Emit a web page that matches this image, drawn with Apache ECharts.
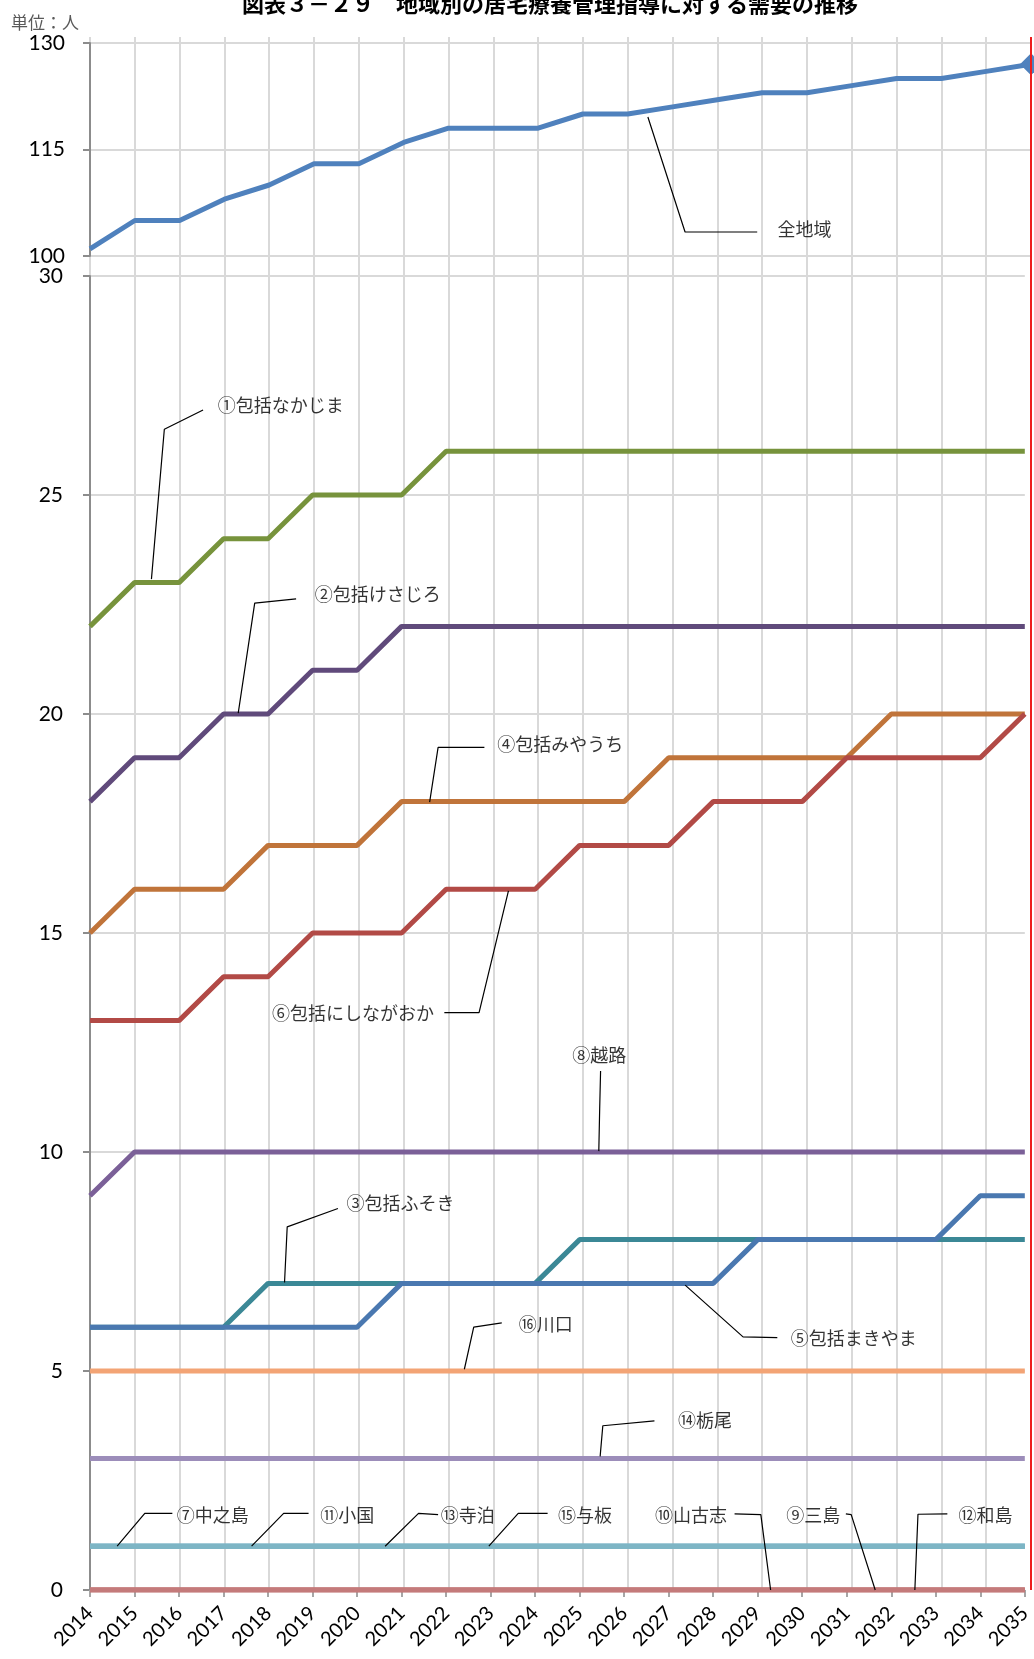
<!DOCTYPE html>
<html><head><meta charset="utf-8">
<script src="https://cdn.jsdelivr.net/npm/echarts@6/dist/echarts.min.js"></script>
<style>html,body{margin:0;padding:0;background:#fff}#c{width:1034px;height:1659px}</style>
</head><body><div id="c"></div>
<script>
// ---- data ----
const years = [2014,2015,2016,2017,2018,2019,2020,2021,2022,2023,2024,2025,2026,2027,2028,2029,2030,2031,2032,2033,2034,2035];
const topTicks = [100, 115, 130];
const lowTicks = [0, 5, 10, 15, 20, 25, 30];

const allArea      = [101,105,105,108,110,113,113,116,118,118,118,120,120,121,122,123,123,124,125,125,126,127];
const nakajima     = [22,23,23,24,24,25,25,25,26,26,26,26,26,26,26,26,26,26,26,26,26,26];
const kesajiro     = [18,19,19,20,20,21,21,22,22,22,22,22,22,22,22,22,22,22,22,22,22,22];
const miyauchi     = [15,16,16,16,17,17,17,18,18,18,18,18,18,19,19,19,19,19,20,20,20,20];
const nishinagaoka = [13,13,13,14,14,15,15,15,16,16,16,17,17,17,18,18,18,19,19,19,19,20];
const koshiji      = [9,10,10,10,10,10,10,10,10,10,10,10,10,10,10,10,10,10,10,10,10,10];
const fusoki       = [6,6,6,6,7,7,7,7,7,7,7,8,8,8,8,8,8,8,8,8,8,8];
const makiyama     = [6,6,6,6,6,6,6,7,7,7,7,7,7,7,7,8,8,8,8,8,9,9];
const kawaguchi    = [5,5,5,5,5,5,5,5,5,5,5,5,5,5,5,5,5,5,5,5,5,5];
const tochio       = [3,3,3,3,3,3,3,3,3,3,3,3,3,3,3,3,3,3,3,3,3,3];
const nakanoshima  = [1,1,1,1,1,1,1,1,1,1,1,1,1,1,1,1,1,1,1,1,1,1];
const oguni        = [1,1,1,1,1,1,1,1,1,1,1,1,1,1,1,1,1,1,1,1,1,1];
const teradomari   = [1,1,1,1,1,1,1,1,1,1,1,1,1,1,1,1,1,1,1,1,1,1];
const yoita        = [1,1,1,1,1,1,1,1,1,1,1,1,1,1,1,1,1,1,1,1,1,1];
const yamakoshi    = [0,0,0,0,0,0,0,0,0,0,0,0,0,0,0,0,0,0,0,0,0,0];
const mishima      = [0,0,0,0,0,0,0,0,0,0,0,0,0,0,0,0,0,0,0,0,0,0];
const washima      = [0,0,0,0,0,0,0,0,0,0,0,0,0,0,0,0,0,0,0,0,0,0];

// annotations: label text, label anchor (data space), leader polyline (data space)
const topNotes = [
  {text:'全地域', at:[2029.33,103.8], leader:[[2026.45,119.58],[2027.28,103.38],[2028.89,103.38]]}
];
const lowNotes = [
  {text:'①包括なかじま', at:[2016.86,27.04], leader:[[2015.38,23.08],[2015.67,26.5],[2016.54,26.94]]},
  {text:'②包括けさじろ', at:[2019.04,22.73], leader:[[2017.33,20.02],[2017.70,22.53],[2018.63,22.63]]},
  {text:'④包括みやうち', at:[2023.14,19.32], leader:[[2021.63,17.99],[2021.82,19.24],[2022.86,19.24]]},
  {text:'⑥包括にしながおか', at:[2018.08,13.18], leader:[[2023.40,15.96],[2022.74,13.18],[2021.96,13.18]]},
  {text:'⑧越路', at:[2024.82,12.21], leader:[[2025.43,10.02],[2025.45,11.0],[2025.47,11.85]]},
  {text:'③包括ふそき', at:[2019.75,8.83], leader:[[2018.37,7.02],[2018.43,8.29],[2019.57,8.71]]},
  {text:'⑤包括まきやま', at:[2029.73,5.75], leader:[[2027.37,6.96],[2028.67,5.78],[2029.44,5.76]]},
  {text:'⑯川口', at:[2023.62,6.07], leader:[[2022.41,5.04],[2022.62,6.0],[2023.25,6.10]]},
  {text:'⑭栃尾', at:[2027.20,3.88], leader:[[2025.46,3.05],[2025.52,3.75],[2026.68,3.86]]},
  {text:'⑦中之島', at:[2015.94,1.71], leader:[[2014.61,1.0],[2015.23,1.75],[2015.85,1.75]]},
  {text:'⑪小国', at:[2019.16,1.71], leader:[[2017.63,1.0],[2018.35,1.75],[2018.91,1.75]]},
  {text:'⑬寺泊', at:[2021.87,1.71], leader:[[2020.63,1.0],[2021.38,1.75],[2021.82,1.72]]},
  {text:'⑮与板', at:[2024.50,1.71], leader:[[2022.96,1.0],[2023.62,1.75],[2024.28,1.75]]},
  {text:'⑩山古志', at:[2026.68,1.71], leader:[[2028.48,1.74],[2029.07,1.72],[2029.29,0]]},
  {text:'⑨三島', at:[2029.63,1.71], leader:[[2030.98,1.74],[2031.10,1.72],[2031.64,0]]},
  {text:'⑫和島', at:[2033.50,1.71], leader:[[2032.53,0],[2032.60,1.73],[2033.26,1.74]]}
];

const lowSeries = [
  ['①包括なかじま', nakajima, '#77933C'],
  ['②包括けさじろ', kesajiro, '#604A7B'],
  ['④包括みやうち', miyauchi, '#C0743A'],
  ['⑥包括にしながおか', nishinagaoka, '#B24A46'],
  ['⑧越路', koshiji, '#7B6098'],
  ['③包括ふそき', fusoki, '#3B8896'],
  ['⑤包括まきやま', makiyama, '#4A78B0'],
  ['⑯川口', kawaguchi, '#F3A475'],
  ['⑭栃尾', tochio, '#9C8DBA'],
  ['⑦中之島', nakanoshima, '#7DB5C5'],
  ['⑪小国', oguni, '#7DB5C5'],
  ['⑬寺泊', teradomari, '#7DB5C5'],
  ['⑮与板', yoita, '#7DB5C5'],
  ['⑩山古志', yamakoshi, '#C47A7A'],
  ['⑨三島', mishima, '#C47A7A'],
  ['⑫和島', washima, '#C47A7A']
];

// ---- chart ----
const GRID = '#D9D9D9', AXIS = '#8C8C8C';
const JP = '"Noto Sans CJK JP", sans-serif';
const NUM = 'Lato, "Open Sans", sans-serif';
const xBase = {type:'value', min:years[0], max:years[years.length-1], interval:1};

const series = [];
// red right border line on background grid
series.push({type:'line', xAxisIndex:2, yAxisIndex:2, data:[[years[years.length-1],0],[years[years.length-1],1]],
  symbol:'none', lineStyle:{color:'#EE1C1C', width:2}, z:20, silent:true, clip:false});

series.push({type:'line', name:'全地域', xAxisIndex:0, yAxisIndex:0, symbol:'none',
  data: allArea.map((v,i)=> i===allArea.length-1 ? {value:[years[i],v], symbol:'diamond', symbolSize:[22,22]} : [years[i],v]),
  lineStyle:{color:'#4F81BD', width:5}, itemStyle:{color:'#4F81BD'}, z:5});

lowSeries.forEach(([name, arr, col]) => {
  series.push({type:'line', name, xAxisIndex:1, yAxisIndex:1, symbol:'none',
    data: arr.map((v,i)=>[years[i],v]), lineStyle:{color:col, width:5}, itemStyle:{color:col}, z:3});
});

function addNotes(notes, idx){
  notes.forEach(n => {
    series.push({type:'line', xAxisIndex:idx, yAxisIndex:idx, symbol:'none', data:n.leader,
      lineStyle:{color:'#000', width:1.2}, z:8, silent:true, clip:false});
  });
  series.push({type:'scatter', xAxisIndex:idx, yAxisIndex:idx, symbolSize:1, itemStyle:{color:'rgba(0,0,0,0)'},
    data: notes.map(n=>({value:n.at, name:n.text})), z:9, silent:true, clip:false,
    label:{show:true, position:'right', distance:0, formatter:'{b}', color:'#000', fontSize:18, fontFamily:JP}});
}
addNotes(topNotes, 0);
addNotes(lowNotes, 1);

const option = {
  animation:false,
  backgroundColor:'#fff',
  title:[
    {text:'図表３－２９　地域別の居宅療養管理指導に対する需要の推移', left:242, top:-7, padding:0,
     textStyle:{fontSize:22, fontWeight:'bold', color:'#000', fontFamily:JP}},
    {text:'単位：人', left:11, top:14, padding:0,
     textStyle:{fontSize:17, fontWeight:'normal', color:'#595959', fontFamily:JP}}
  ],
  grid:[
    {left:90, right:3, top:43, height:213},
    {left:90, right:3, top:276, height:1314},
    {left:90, right:3, top:37, height:1553}
  ],
  xAxis:[
    Object.assign({gridIndex:0, axisLine:{show:false}, axisTick:{show:false}, axisLabel:{show:false}, splitLine:{show:false}}, xBase),
    Object.assign({gridIndex:1, axisLine:{show:false}, splitLine:{show:false},
      axisTick:{show:true, length:7, lineStyle:{color:'#A6A6A6', width:2}},
      axisLabel:{show:true, rotate:45, margin:20, fontSize:20, color:'#000', fontFamily:NUM, formatter:v=>String(v)}}, xBase),
    Object.assign({gridIndex:2, axisLine:{show:false}, axisTick:{show:false}, axisLabel:{show:false},
      splitLine:{show:true, lineStyle:{color:GRID, width:2}}}, xBase)
  ],
  yAxis:[
    {gridIndex:0, type:'value', min:topTicks[0], max:topTicks[topTicks.length-1], interval:topTicks[1]-topTicks[0],
     axisLine:{show:true, lineStyle:{color:AXIS, width:2}}, axisTick:{show:true, length:7, lineStyle:{color:AXIS, width:2}},
     axisLabel:{margin:25, fontSize:21, color:'#000', fontFamily:NUM},
     splitLine:{show:true, lineStyle:{color:GRID, width:2}}},
    {gridIndex:1, type:'value', min:lowTicks[0], max:lowTicks[lowTicks.length-1], interval:lowTicks[1]-lowTicks[0],
     axisLine:{show:true, lineStyle:{color:AXIS, width:2}}, axisTick:{show:true, length:7, lineStyle:{color:AXIS, width:2}},
     axisLabel:{margin:27, fontSize:21, color:'#000', fontFamily:NUM},
     splitLine:{show:true, lineStyle:{color:GRID, width:2}}},
    {gridIndex:2, type:'value', min:0, max:1, show:false, splitLine:{show:false}}
  ],
  series
};
const chart = echarts.init(document.getElementById('c'), null, {renderer:'canvas'});
chart.setOption(option);
</script></body></html>
